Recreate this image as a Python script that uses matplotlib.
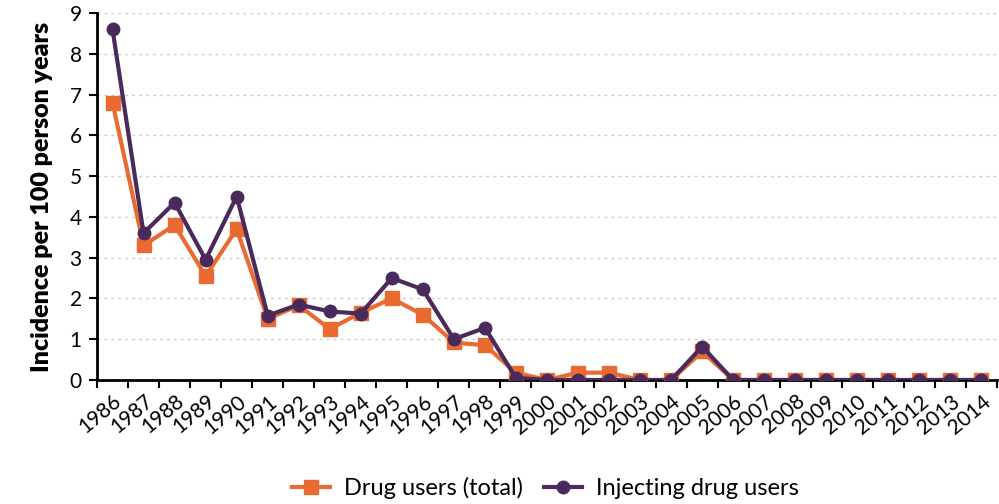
import numpy as np
import matplotlib
matplotlib.use("Agg")
import matplotlib.pyplot as plt

years = [str(y) for y in range(1986, 2015)]
drug_users = [6.8, 3.3, 3.8, 2.55, 3.7, 1.5, 1.83, 1.25, 1.65, 2.0, 1.6, 0.92, 0.85,
              0.18, 0.0, 0.18, 0.18, 0.0, 0.0, 0.7, 0.0, 0.0, 0.0, 0.0, 0.0, 0.0, 0.0, 0.0, 0.0]
injecting = [8.6, 3.6, 4.35, 2.95, 4.5, 1.58, 1.85, 1.68, 1.63, 2.5, 2.22, 1.0, 1.28,
             0.05, 0.0, 0.0, 0.0, 0.0, 0.0, 0.82, 0.0, 0.0, 0.0, 0.0, 0.0, 0.0, 0.0, 0.0, 0.0]

orange = "#E96B32"
purple = "#4A2A5C"

plt.rcParams['font.family'] = ['Lato', 'DejaVu Sans']

fig = plt.figure(figsize=(9.99, 5.04), dpi=100)
ax = fig.add_axes([97 / 999, 1 - 380 / 504, 900 / 999, 367 / 504])

x = np.arange(len(years))
ax.plot(x, drug_users, color=orange, lw=3, marker="s", ms=9.5, label="Drug users (total)", zorder=3)
ax.plot(x, injecting, color=purple, lw=3, marker="o", ms=9, label="Injecting drug users", zorder=4)

ax.set_xlim(-0.5, len(years) - 0.5)
ax.set_ylim(0, 9)
ax.set_yticks(range(10))
ax.tick_params(axis="y", labelsize=15, length=6, width=1.5, pad=5)
ax.set_xticks(x)
ax.set_xticklabels(years, rotation=40, ha="right", rotation_mode="anchor", fontsize=15)
ax.set_xticks(np.arange(-0.5, len(years)), minor=True)
ax.tick_params(axis="x", which="major", length=0, pad=8)
ax.tick_params(axis="x", which="minor", length=6, width=1.5)

ax.grid(axis="y", color="#cccccc", ls=(0, (2, 3)), lw=1)
ax.set_axisbelow(True)
for s in ["top", "right"]:
    ax.spines[s].set_visible(False)
for s in ["left", "bottom"]:
    ax.spines[s].set_linewidth(2)

ax.set_ylabel("Incidence per 100 person years", fontsize=18, fontweight="heavy", labelpad=12)

fig.legend(loc="center", ncol=2, bbox_to_anchor=(0.546, 0.032), frameon=False,
           fontsize=17, handlelength=1.6, columnspacing=0.9, handletextpad=0.6)

fig.savefig("out.png", dpi=100)
